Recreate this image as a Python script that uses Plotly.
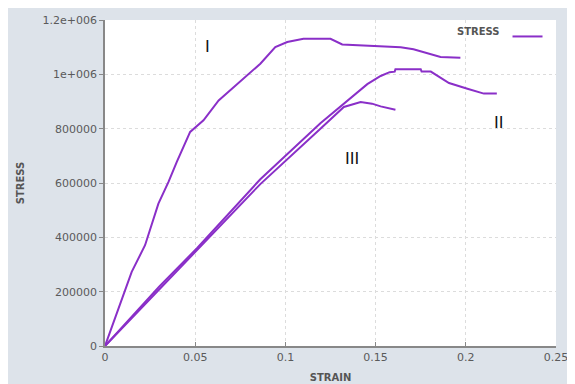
import plotly.graph_objects as go

# Curve I
strain_I = [0, 0.0148, 0.0222, 0.0296, 0.0352, 0.0398, 0.0472, 0.0546, 0.063, 0.0861,
            0.0944, 0.101, 0.110, 0.125, 0.1315, 0.1417, 0.1639, 0.171, 0.186, 0.197]
stress_I = [0, 273000, 371000, 524000, 604000, 678000, 788000, 831000, 904000, 1039000,
            1100000, 1119000, 1131000, 1131000, 1110000, 1107000, 1100000, 1092000, 1064000, 1061000]

# Curve II
strain_II = [0, 0.015, 0.03, 0.051, 0.0861, 0.1194, 0.136, 0.1454, 0.1528, 0.1578, 0.1606,
             0.161, 0.175, 0.1755, 0.1806, 0.186, 0.1907, 0.2009, 0.210, 0.2172]
stress_II = [0, 110000, 218000, 360000, 614000, 820000, 914000, 964000, 994000, 1008000, 1010000,
             1019000, 1019000, 1010000, 1010000, 988000, 968000, 947000, 929000, 929000]

# Curve III
strain_III = [0, 0.03, 0.051, 0.0861, 0.1194, 0.1324, 0.1417, 0.148, 0.1528, 0.161]
stress_III = [0, 208000, 350000, 596000, 800000, 880000, 898000, 892000, 882000, 870000]

# Axis ticks
x_ticks = [0, 0.05, 0.1, 0.15, 0.2, 0.25]
x_ticklabels = ["0", "0.05", "0.1", "0.15", "0.2", "0.25"]
y_ticks = [0, 200000, 400000, 600000, 800000, 1000000, 1200000]
y_ticklabels = ["0", "200000", "400000", "600000", "800000", "1e+006", "1.2e+006"]

# Curve labels
label_text = ["I", "II", "III"]
label_x = [0.0567, 0.218, 0.137]
label_y = [1103000, 823000, 691000]

purple = "#8a2fc8"
fig = go.Figure()
for i, (xs, ys) in enumerate([(strain_I, stress_I), (strain_II, stress_II), (strain_III, stress_III)]):
    fig.add_trace(go.Scatter(x=xs, y=ys, mode="lines", name=" ",
                             line=dict(color=purple, width=2),
                             showlegend=(i == 0), hoverinfo="skip"))

for t, x, y in zip(label_text, label_x, label_y):
    fig.add_annotation(x=x, y=y, text=t, showarrow=False,
                       font=dict(family="DejaVu Sans", size=16, color="#111"))

axis_font = dict(family="DejaVu Sans", size=11, color="#5a5a5a")
title_font = dict(family="DejaVu Sans", size=10, color="#555")
fig.update_layout(
    width=567, height=376,
    margin=dict(l=97, r=19, t=12, b=38),
    paper_bgcolor="#dde3ea", plot_bgcolor="white",
    font=dict(family="DejaVu Sans", color="#555"),
    legend=dict(x=1.0, y=0.994, xanchor="right", yanchor="top",
                bgcolor="rgba(0,0,0,0)",
                title=dict(text="<b>STRESS</b>", side="left", font=title_font),
                font=dict(size=10), itemwidth=30, tracegroupgap=0),
    xaxis=dict(range=[0, 0.25], tickvals=x_ticks, ticktext=x_ticklabels, automargin=False,
               tickfont=axis_font, showline=True, linecolor="#888", linewidth=1.5,
               ticks="inside", ticklen=4, tickcolor="#888",
               showgrid=True, gridcolor="#dcdcdc", griddash="dot", zeroline=False,
               title=dict(text="<b>STRAIN</b>", font=title_font, standoff=11)),
    yaxis=dict(range=[0, 1200000], tickvals=y_ticks, ticktext=y_ticklabels, automargin=False,
               tickfont=axis_font, showline=True, linecolor="#888", linewidth=1.5,
               ticks="outside", ticklen=4, tickcolor="#888",
               showgrid=True, gridcolor="#dcdcdc", griddash="dot", zeroline=False,
               title=dict(text="<b>STRESS</b>", font=title_font, standoff=16)),
)

fig.write_html("out.html")
